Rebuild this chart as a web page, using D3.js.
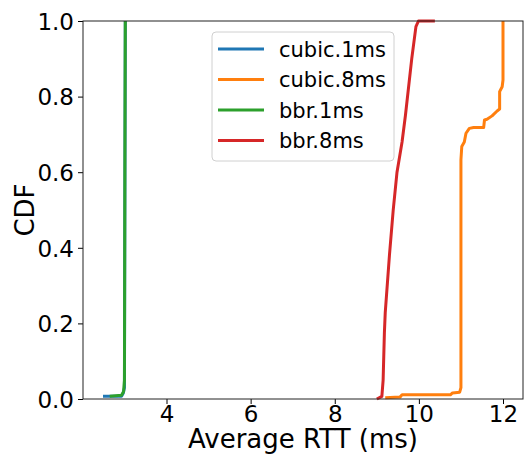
<!DOCTYPE html>
<html>
<head>
<meta charset="utf-8">
<script src="https://cdn.jsdelivr.net/npm/d3@7"></script>
<style>
  body { margin: 0; background: #fff; }
  text { font-family: "DejaVu Sans", sans-serif; fill: #000; }
</style>
</head>
<body>
<div id="chart"></div>
<script>
// series names, colours (matplotlib tab10)
const seriesNames = ["cubic.1ms", "cubic.8ms", "bbr.1ms", "bbr.8ms"];
const seriesColors = ["#1f77b4", "#ff7f0e", "#2ca02c", "#d62728"];

// [avg RTT (ms), CDF] points
const cubic1ms = [
  [2.49, 0.007], [2.93, 0.007], [2.97, 0.015], [3.0, 0.03], [3.02, 1.0]
];
const cubic8ms = [
  [9.2, 0.003], [9.55, 0.005], [9.6, 0.011], [10.75, 0.011], [10.8, 0.016],
  [10.97, 0.018], [11.0, 0.03], [11.0, 0.633], [11.02, 0.668], [11.08, 0.68],
  [11.12, 0.703], [11.2, 0.716], [11.3, 0.718], [11.54, 0.718], [11.56, 0.738],
  [11.62, 0.74], [11.74, 0.749], [11.86, 0.762], [11.92, 0.767], [11.92, 0.813],
  [11.98, 0.826], [12.0, 0.844], [12.0, 1.0]
];
const bbr1ms = [
  [2.65, 0.007], [2.93, 0.01], [2.98, 0.02], [3.0, 0.05], [3.01, 0.6], [3.02, 1.0]
];
const bbr8ms = [
  [9.0, 0.0], [9.12, 0.007], [9.15, 0.05], [9.18, 0.175], [9.2, 0.228],
  [9.3, 0.38], [9.39, 0.5], [9.48, 0.6], [9.6, 0.68], [9.68, 0.75],
  [9.83, 0.9], [9.93, 0.985], [9.99, 1.0], [10.38, 1.0]
];
const seriesData = [cubic1ms, cubic8ms, bbr1ms, bbr8ms];

const xTicks = [4, 6, 8, 10, 12];
const yTicks = [0, 0.2, 0.4, 0.6, 0.8, 1.0];

const W = 525, H = 456;
const margin = { top: 21, right: 2, bottom: 57, left: 83 };
const width = W - margin.left - margin.right;
const height = H - margin.top - margin.bottom;

const svg = d3.select('#chart')
  .append('svg')
  .attr('width', W)
  .attr('height', H);

const g = svg.append('g')
  .attr('transform', `translate(${margin.left},${margin.top})`);

// x range like matplotlib: data extent + 5% margin
const allX = seriesData.flat().map(d => d[0]);
const xMin = d3.min(allX), xMax = d3.max(allX);
const pad = (xMax - xMin) * 0.05;

const x = d3.scaleLinear().domain([xMin - pad, xMax + pad]).range([0, width]);
const y = d3.scaleLinear().domain([0, 1]).range([height, 0]);

// lines
const line = d3.line().x(d => x(d[0])).y(d => y(d[1]));
const plot = g.append('g');
seriesData.forEach((s, i) => {
  plot.append('path')
    .datum(s)
    .attr('fill', 'none')
    .attr('stroke', seriesColors[i])
    .attr('stroke-width', 3)
    .attr('stroke-linejoin', 'round')
    .attr('d', line);
});

// axes
const xAxis = g.append('g')
  .attr('transform', `translate(0,${height})`)
  .call(d3.axisBottom(x).tickValues(xTicks).tickSize(5).tickPadding(3).tickFormat(d3.format('d')));
const yAxis = g.append('g')
  .call(d3.axisLeft(y).tickValues(yTicks).tickSize(5).tickPadding(4).tickFormat(d3.format('.1f')));

[xAxis, yAxis].forEach(a => {
  a.select('.domain').remove();
  a.selectAll('line').attr('stroke', '#000').attr('stroke-width', 1);
  a.selectAll('text').style('font-size', '23px').style('font-family', '"DejaVu Sans", sans-serif');
});
yAxis.selectAll('text').attr('dy', '0.36em');
xAxis.selectAll('text').attr('dy', '0.64em');

// frame
g.append('rect')
  .attr('x', 0).attr('y', 0)
  .attr('width', width).attr('height', height)
  .attr('fill', 'none')
  .attr('stroke', '#222')
  .attr('stroke-width', 1);

// axis labels
svg.append('text')
  .attr('x', margin.left + width / 2)
  .attr('y', 448)
  .attr('text-anchor', 'middle')
  .style('font-size', '26px')
  .text('Average RTT (ms)');

svg.append('text')
  .attr('transform', `translate(34,${margin.top + height / 2}) rotate(-90)`)
  .attr('text-anchor', 'middle')
  .style('font-size', '26px')
  .text('CDF');

// legend
const legend = svg.append('g').attr('transform', 'translate(212,32)');
legend.append('rect')
  .attr('width', 182).attr('height', 129)
  .attr('rx', 4)
  .attr('fill', 'white').attr('fill-opacity', 0.8)
  .attr('stroke', '#d0d0d0');

seriesNames.forEach((name, i) => {
  const ly = 17 + i * 30.5;
  legend.append('line')
    .attr('x1', 6).attr('x2', 52)
    .attr('y1', ly).attr('y2', ly)
    .attr('stroke', seriesColors[i])
    .attr('stroke-width', 3);
  legend.append('text')
    .attr('x', 67).attr('y', ly + 7.5)
    .style('font-size', '21px')
    .text(name);
});
</script>
</body>
</html>
